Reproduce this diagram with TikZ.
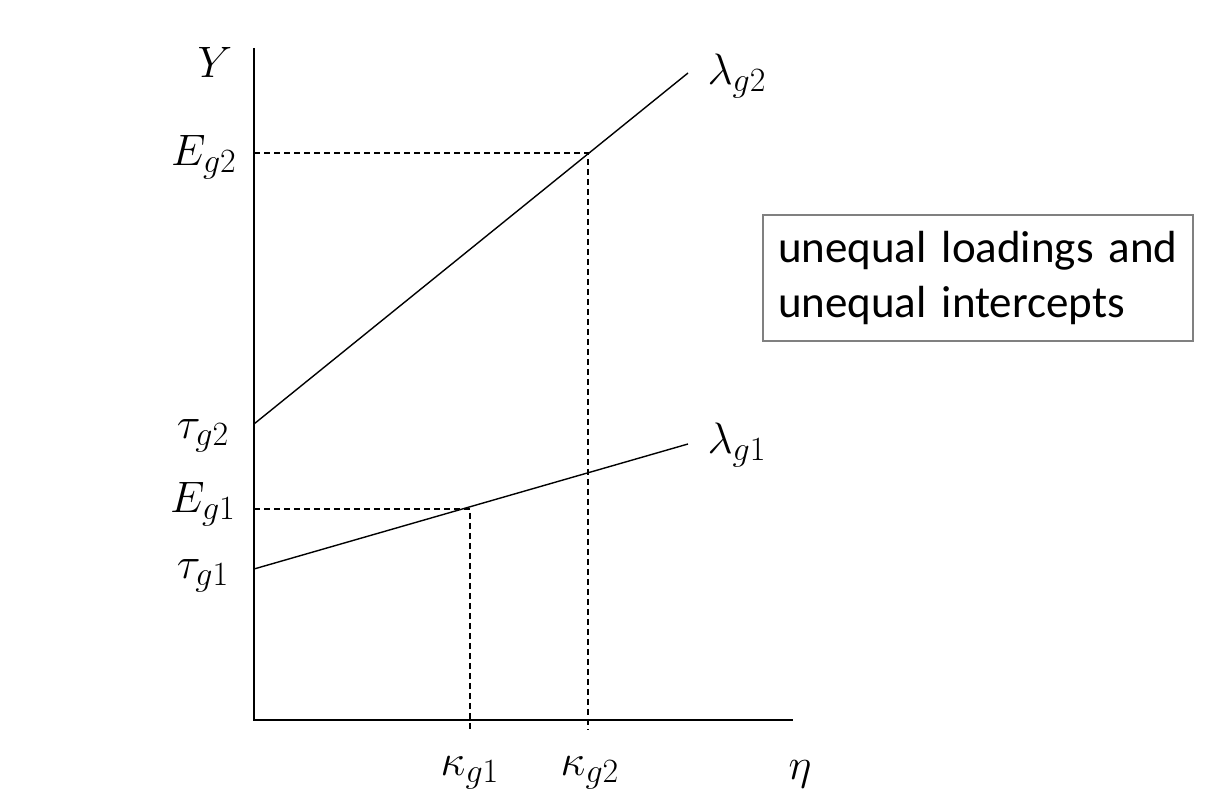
\RequirePackage{fix-cm}
\documentclass[tikz,border=0pt]{standalone}
\usepackage{fontspec}
\newfontfamily\boxfont{Carlito}
\DeclareMathSizes{22}{22}{17}{13}

\tikzset{
  guide/.style={dash pattern=on 3pt off 2pt, line width=0.6pt},
  curve/.style={line width=0.7pt},
  lab/.style={font=\fontsize{22}{26}\selectfont, inner sep=0pt}
}

\begin{document}
\begin{tikzpicture}[x=0.5pt, y=-0.5pt]
            \useasboundingbox (0,0) rectangle (1228,812);

            \coordinate (O) at (254,720);
            \coordinate (Ytop) at (254,48);
            \coordinate (Xend) at (793,720);
            \coordinate (T2) at (254,424);
            \coordinate (T1) at (254,569);
            \coordinate (L2) at (688,73);
            \coordinate (L1) at (688,444);
            \coordinate (P2) at (588,153);
            \coordinate (P1) at (470,509);
            \coordinate (E2) at (254,153);
            \coordinate (E1) at (254,509);
            \coordinate (K2) at (588,730);
            \coordinate (K1) at (470,730);

            \node[lab] (Y) at (215,62) {$Y$};
            \node[lab] (Eg2) at (204,157) {$E_{g2}$};
            \node[lab] (tg2) at (203,436) {$\tau_{g2}$};
            \node[lab] (Eg1) at (203,504) {$E_{g1}$};
            \node[lab] (tg1) at (203,576) {$\tau_{g1}$};
            \node[lab] (kg1) at (470,773) {$\kappa_{g1}$};
            \node[lab] (kg2) at (590,773) {$\kappa_{g2}$};
            \node[lab] (eta) at (800,774) {$\eta$};
            \node[lab] (lg2) at (737,76) {$\lambda_{g2}$};
            \node[lab] (lg1) at (737,445) {$\lambda_{g1}$};

            \node[draw=gray, line width=0.6pt, minimum width=215pt, minimum height=63pt,
                  text width=200pt, align=left, inner xsep=7.5pt,
                  font=\boxfont\fontsize{22.5}{27.5}\selectfont] (note) at (978,278)
                  {unequal loadings and\\unequal intercepts};

            \draw[curve] (Ytop) -- (O) -- (Xend);
            \draw[curve] (T2) -- (L2);
            \draw[curve] (T1) -- (L1);
            \draw[guide] (E2) -- (P2) -- (K2);
            \draw[guide] (E1) -- (P1) -- (K1);
          \end{tikzpicture}
\end{document}
